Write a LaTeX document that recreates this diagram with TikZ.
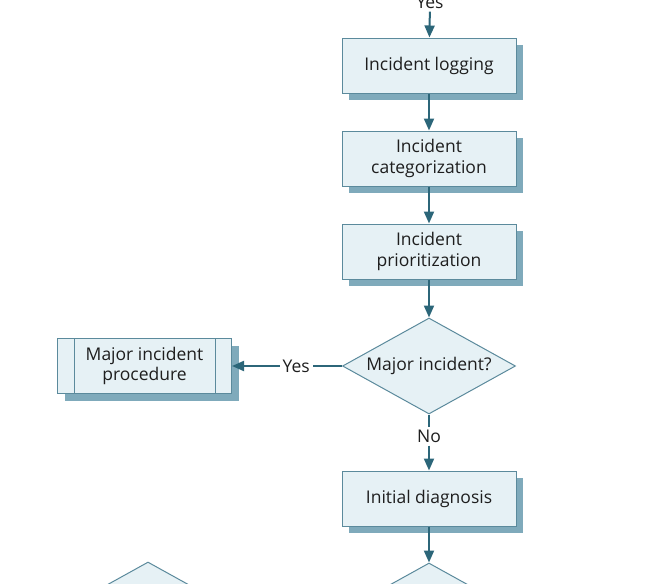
\documentclass[tikz,border=0pt]{standalone}
\usepackage{fontspec}
\setmainfont{Open Sans}
\usetikzlibrary{arrows.meta, shapes.geometric, shadows, positioning}
\definecolor{boxfill}{HTML}{E6F1F5}
\definecolor{boxline}{HTML}{5B8A9C}
\definecolor{shade}{HTML}{7FAABB}
\definecolor{arrowc}{HTML}{2C6679}
\definecolor{txt}{HTML}{1E1E1E}
\newcommand\lbl{\fontsize{17.5}{20.5}\selectfont\color{txt}}

\begin{document}
\begin{tikzpicture}[x=1pt, y=-1pt,
        n/.style={draw=boxline, fill=boxfill, line width=1pt, minimum width=174pt, minimum height=55pt,
          align=center, font=\lbl, drop shadow={shadow xshift=7pt, shadow yshift=-7pt, fill=shade, opacity=1}},
        d/.style={diamond, draw=boxline, fill=boxfill, line width=1pt, minimum width=173pt,
          minimum height=96pt, inner sep=0pt, font=\lbl},
        l/.style={font=\lbl, inner sep=3pt},
        e/.style={-{Triangle[length=12pt, width=10pt]}, draw=arrowc, line width=2pt}]
        \useasboundingbox (0,0) rectangle (651,584);
        \clip (0,0) rectangle (651,584);

        \draw node[l] (yes0) at (430,2) {Yes};
        \draw node[n] (log) at (429,65.5) {Incident logging};
        \draw node[n, below=37pt of log] (cat) {Incident\\categorization};
        \draw node[n, below=37pt of cat] (pri) {Incident\\prioritization};
        \draw node[d, below=38pt of pri] (maj) {\makebox[0pt]{Major incident?}};
        \draw node[n, left=110pt of maj] (mip) {Major incident\\procedure};
        \draw[boxline, line width=1pt] ([xshift=17pt]mip.north west) -- ([xshift=17pt]mip.south west)
          ([xshift=-17pt]mip.north east) -- ([xshift=-17pt]mip.south east);
        \draw node[l, left=29pt of maj] (yes1) {Yes};
        \draw node[l, below=12pt of maj] (no) {No};
        \draw node[n, below=56pt of maj] (diag) {Initial diagnosis};
        \draw node[d, below=36pt of diag] (dec1) {};
        \draw node[d] (dec2) at (148,610) {};

        \draw[e] (yes0) -- (log);
        \draw[e] (log) -- (cat);
        \draw[e] (cat) -- (pri);
        \draw[e] (pri) -- (maj);
        \draw[arrowc, line width=2pt] (maj.west) -- (yes1);
        \draw[e] (yes1) -- (mip);
        \draw[arrowc, line width=2pt] (maj.south) -- (no);
        \draw[e] (no) -- (diag);
        \draw[e] (diag) -- (dec1);
      \end{tikzpicture}
\end{document}
